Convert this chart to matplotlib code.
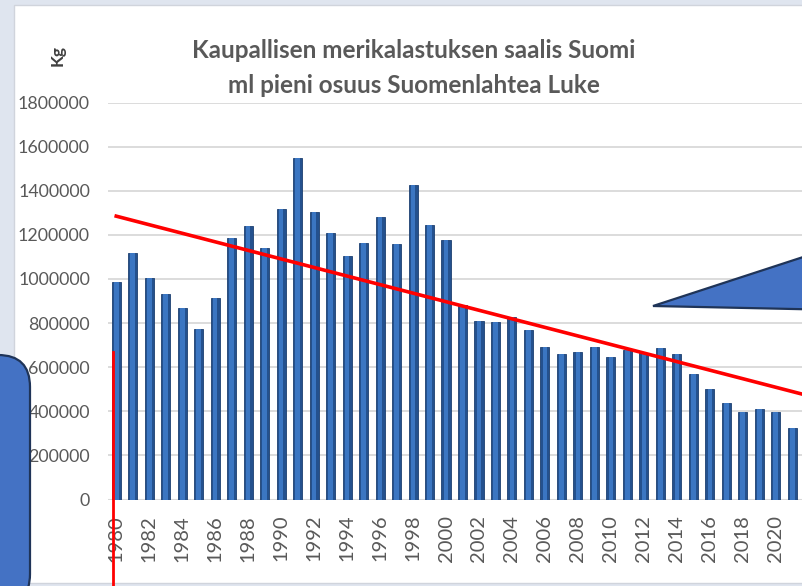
import numpy as np
import matplotlib
matplotlib.use("Agg")
from matplotlib import pyplot as plt
from matplotlib.patches import Rectangle, FancyBboxPatch, Polygon
from matplotlib.transforms import IdentityTransform

# catch per year, kg
years = list(range(1980, 2022))
catch_kg = [986000, 1118000, 1006000, 931000, 866000, 775000, 914000, 1186000,
            1239000, 1141000, 1315000, 1547000, 1304000, 1209000, 1106000, 1163000,
            1280000, 1157000, 1426000, 1243000, 1176000, 884000, 809000, 803000,
            827000, 768000, 692000, 658000, 669000, 692000, 647000, 679000,
            664000, 686000, 658000, 570000, 499000, 436000, 396000, 411000,
            396000, 325000]
y_ticks = [0, 200000, 400000, 600000, 800000, 1000000, 1200000, 1400000, 1600000, 1800000]
x_ticks = list(range(1980, 2021, 2))

title = "Kaupallisen merikalastuksen saalis Suomi\nml pieni osuus Suomenlahtea Luke"
unit = "Kg"

W, H = 802, 586
fig = plt.figure(figsize=(W / 100, H / 100), dpi=100)
fig.patch.set_facecolor("#dfe5ef")

# white chart area (pixel coords, origin bottom-left)
fig.add_artist(Rectangle((14, H - 583), W, 578, transform=IdentityTransform(),
                         facecolor="white", edgecolor="#d0d4dc", lw=1, zorder=0))

ax = fig.add_axes([108 / W, (H - 499.5) / H, 709 / W, 397 / H])
ax.set_facecolor("none")

grey = "#595959"
fnt = ["Lato", "DejaVu Sans"]

ax.bar(years, catch_kg, width=0.55, color="#24518e", edgecolor="#1c3f70", lw=0.6, zorder=3)
ax.bar(years, catch_kg, width=0.28, color="#3b76c2", lw=0, zorder=4)

# linear trend
k, b = np.polyfit(years, catch_kg, 1)
tx = np.array([1980, 2023])
ax.plot(tx, k * tx + b, color="#ff0000", lw=2.6, zorder=6)

ax.set_xlim(1979.5, 2022.5)
ax.set_ylim(0, 1800000)
ax.set_yticks(y_ticks)
ax.set_yticklabels([str(v) for v in y_ticks], family=fnt, fontsize=12.8, color=grey)
ax.set_xticks(x_ticks)
ax.set_xticklabels([str(v) for v in x_ticks], family=fnt, fontsize=14.5, color=grey,
                   rotation=90, va="top")
ax.tick_params(length=0)
ax.tick_params(axis="y", pad=13)
ax.tick_params(axis="x", pad=11)
ax.grid(axis="y", color="#d9d9d9", lw=1.3, zorder=0)
for s in ax.spines.values():
    s.set_visible(False)
ax.axhline(0, color="#d9d9d9", lw=1.5, zorder=2)

fig.text(414 / W, 1 - 68 / H, title, ha="center", va="center", family=fnt,
         fontsize=17.5, fontweight="bold", color=grey, linespacing=1.6)
fig.text(58 / W, 1 - 56 / H, unit, ha="center", va="center", rotation=90,
         family=fnt, fontsize=12.5, fontweight="bold", color="#404040")

# red marker line at the start year
ax.plot([1979.82, 1979.82], [668000, -500000], color="#ff0000", lw=2, zorder=7,
        clip_on=False)

# callout shapes drawn over the chart
fig.add_artist(FancyBboxPatch((-60, -20), 90, H - 355 + 20, transform=IdentityTransform(),
                              boxstyle="round,pad=0,rounding_size=32",
                              facecolor="#4472c4", edgecolor="#1f3458", lw=1.6, zorder=10))
fig.add_artist(Polygon([(653, H - 306), (840, H - 245), (840, H - 310)],
                       transform=IdentityTransform(), closed=True,
                       facecolor="#4472c4", edgecolor="#1f3458", lw=1.6, zorder=10))

fig.savefig("out.png", dpi=100)
